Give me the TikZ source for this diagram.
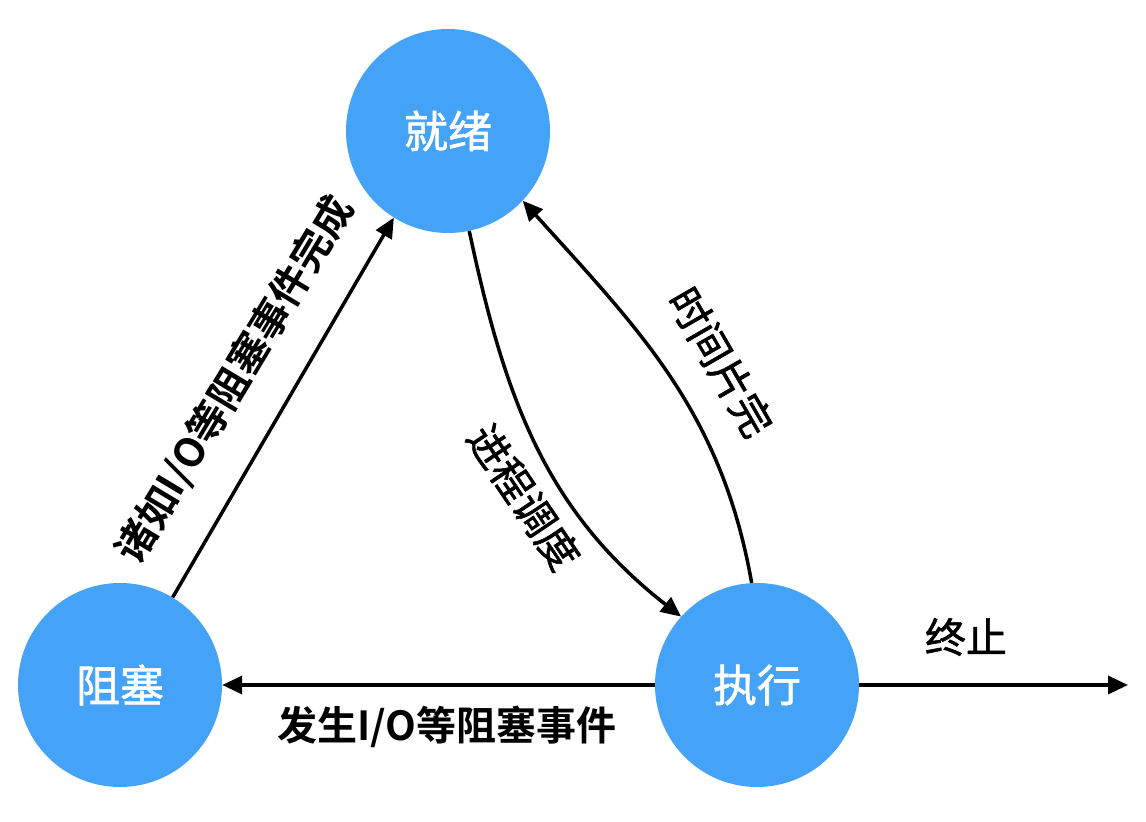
\documentclass[tikz,border=0pt]{standalone}
\usepackage{fontspec}
\setmainfont{Noto Sans CJK SC}[BoldFont={Noto Sans CJK SC Bold}]
\newfontfamily\medfont{Noto Sans CJK SC}[FakeBold=1.4]
\usepackage{tikz}
\usetikzlibrary{arrows.meta,positioning}
\definecolor{stateBlue}{HTML}{44A2F7}

\tikzset{
  state/.style={circle,fill=stateBlue,minimum size=204pt,inner sep=0pt,
    text=white,font=\fontsize{44}{48}\selectfont\medfont},
  trans/.style={line width=3.5pt,-{Triangle[length=20pt,width=18pt]}},
  boldtag/.style={inner sep=0pt,font=\fontsize{40}{44}\selectfont\bfseries},
  thintag/.style={inner sep=0pt,font=\fontsize{41}{44}\selectfont\medfont}
}

\begin{document}
\begin{tikzpicture}[x=1pt,y=1pt]
    \useasboundingbox (0,0) rectangle (1146,822);

    \node[state] (ready) at (448,691) {就绪};
    \node[state] (blocked) at (120,137) {阻塞};
    \node[state] (running) at (757,137) {执行};
    \coordinate (exit) at (1128,137);

    \draw[trans] (blocked.59) -- (ready.238);
    \draw[trans] (ready.282) to[out=-78,in=142] (running.138);
    \draw[trans] (running.93) to[out=100,in=-48] (ready.317);
    \draw[trans] (running.west) -- (blocked.east);
    \draw[trans] (running.east) -- (exit);

    \node[boldtag,rotate=59] (wakeTag) at (235,442) {诸如I/O等阻塞事件完成};
    \node[thintag,rotate=-56] (dispatchTag) at (524,325) {进程调度};
    \node[thintag,rotate=-60] (timeoutTag) at (721,460) {时间片完};
    \node[boldtag] (blockTag) at (447,95) {发生I/O等阻塞事件};
    \node[thintag] (exitTag) at (966,185) {终止};
  \end{tikzpicture}
\end{document}
